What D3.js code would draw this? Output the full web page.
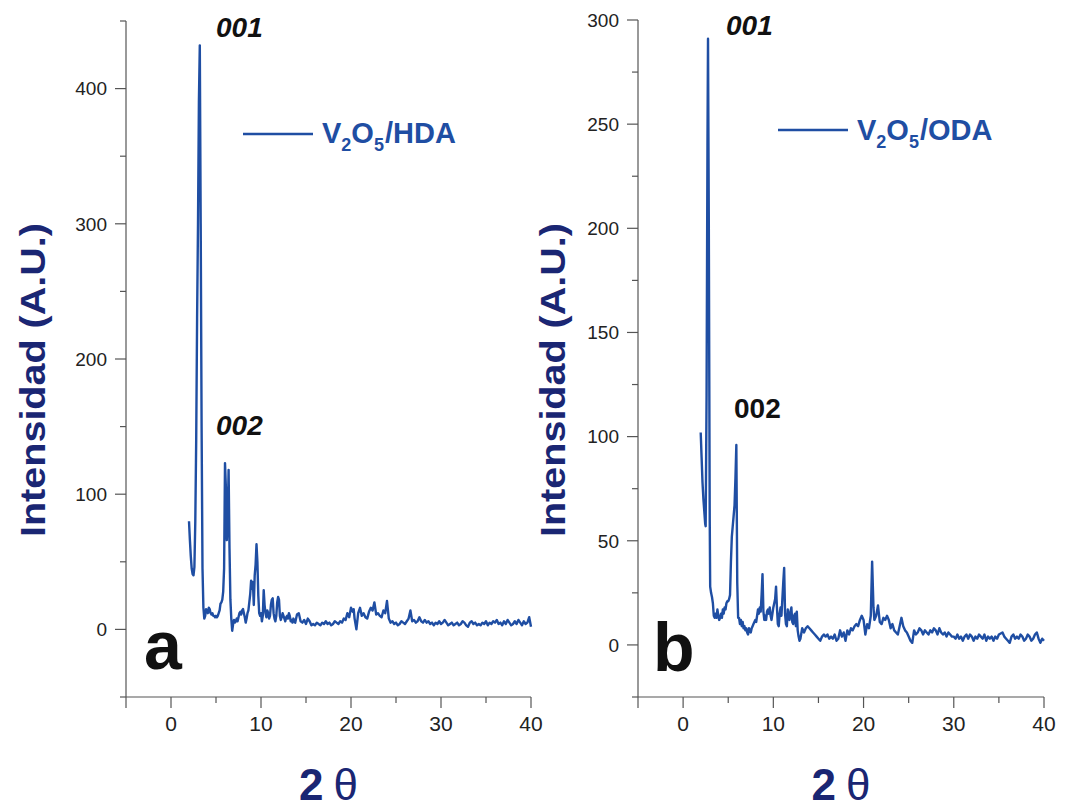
<!DOCTYPE html>
<html>
<head>
<meta charset="utf-8">
<script src="https://cdn.jsdelivr.net/npm/d3@7"></script>
<style>
  html, body { margin: 0; padding: 0; background: #fff; }
  svg { display: block; font-family: "Liberation Sans", Arial, Helvetica, sans-serif; }
</style>
</head>
<body>
<svg id="chart" width="1065" height="811"></svg>
<script>
// X-ray diffraction patterns (2θ in degrees, intensity in arbitrary units)
const hdaPattern = [
  [2.0,80],[2.1,66],[2.2,54],[2.3,45],[2.4,41],[2.5,40],[2.6,46],[2.7,80],[2.8,140],[2.9,230],
  [3.0,300],[3.1,390],[3.2,432],[3.3,300],[3.4,150],[3.5,45],[3.6,16],[3.7,8],[3.8,10],[3.9,15],
  [4.0,14],[4.1,12],[4.2,16],[4.3,15],[4.4,12],[4.5,11],[4.6,12],[4.7,10],[4.8,10],[4.9,9],
  [5.0,10],[5.1,9],[5.2,10],[5.3,12],[5.4,14],[5.5,19],[5.6,20],[5.7,22],[5.8,28],[5.9,45],
  [6.0,123],[6.1,105],[6.2,66],[6.3,80],[6.4,118],[6.5,60],[6.6,22],[6.7,8],[6.8,-1],[6.9,4],
  [7.0,7],[7.1,5],[7.2,6],[7.3,8],[7.4,6],[7.5,9],[7.6,12],[7.7,13],[7.8,11],[7.9,14],
  [8.0,15],[8.1,12],[8.2,9],[8.3,5],[8.4,8],[8.5,12],[8.6,14],[8.7,20],[8.8,26],[8.9,36],
  [9.0,30],[9.1,35],[9.2,18],[9.3,40],[9.4,48],[9.5,63],[9.6,50],[9.7,25],[9.8,12],[9.9,10],
  [10.0,12],[10.1,6],[10.2,10],[10.3,29],[10.4,18],[10.5,12],[10.6,9],[10.7,14],[10.8,12],[10.9,8],
  [11.0,10],[11.1,18],[11.2,22],[11.3,23],[11.4,12],[11.5,8],[11.6,6],[11.7,10],[11.8,20],[11.9,24],
  [12.0,22],[12.1,10],[12.2,7],[12.3,9],[12.4,12],[12.5,10],[12.6,8],[12.7,6],[12.8,9],[12.9,10],
  [13.0,8],[13.1,12],[13.2,10],[13.3,6],[13.4,7],[13.5,5],[13.6,8],[13.7,6],[13.8,5],[13.9,8],
  [14.0,11],[14.2,12],[14.4,6],[14.6,5],[14.8,7],[15.0,4],[15.2,8],[15.4,6],[15.6,3],[15.8,4],
  [16.0,3],[16.2,5],[16.4,4],[16.6,3],[16.8,5],[17.0,4],[17.2,6],[17.4,4],[17.6,5],[17.8,3],
  [18.0,4],[18.2,6],[18.4,5],[18.6,4],[18.8,6],[19.0,5],[19.2,8],[19.4,7],[19.6,12],[19.8,9],
  [20.0,16],[20.2,13],[20.3,15],[20.4,8],[20.6,0],[20.8,12],[21.0,16],[21.2,10],[21.4,12],[21.6,9],
  [21.8,8],[22.0,13],[22.2,16],[22.4,14],[22.6,20],[22.8,11],[23.0,12],[23.2,10],[23.4,9],[23.6,14],
  [23.8,12],[24.0,21],[24.2,8],[24.4,5],[24.6,6],[24.8,4],[25.0,5],[25.2,3],[25.4,4],[25.6,6],
  [25.8,5],[26.0,4],[26.2,6],[26.4,8],[26.6,14],[26.8,6],[27.0,7],[27.2,5],[27.4,6],[27.6,9],
  [27.8,6],[28.0,5],[28.2,7],[28.4,5],[28.6,6],[28.8,4],[29.0,5],[29.2,3],[29.4,5],[29.6,4],
  [29.8,6],[30.0,4],[30.2,5],[30.4,7],[30.6,5],[30.8,3],[31.0,4],[31.2,5],[31.4,3],[31.6,4],
  [31.8,5],[32.0,3],[32.2,4],[32.4,6],[32.6,5],[32.8,3],[33.0,2],[33.2,5],[33.4,6],[33.6,4],
  [33.8,5],[34.0,3],[34.2,4],[34.4,3],[34.6,5],[34.8,4],[35.0,6],[35.2,3],[35.4,5],[35.6,4],
  [35.8,6],[36.0,5],[36.2,7],[36.4,4],[36.6,5],[36.8,3],[37.0,6],[37.2,4],[37.4,7],[37.6,5],
  [37.8,3],[38.0,4],[38.2,6],[38.4,4],[38.6,7],[38.8,5],[39.0,3],[39.2,6],[39.4,4],[39.6,5],
  [39.8,9],[40.0,2]
];

const odaPattern = [
  [1.95,102],[2.05,90],[2.15,78],[2.25,70],[2.35,64],[2.45,58],[2.5,57],[2.6,120],[2.7,240],[2.76,291],
  [2.85,200],[2.95,60],[3.0,28],[3.1,25],[3.2,23],[3.3,20],[3.4,14],[3.5,13],[3.6,15],[3.7,13],
  [3.8,17],[3.9,14],[4.0,12],[4.1,13],[4.2,15],[4.3,13],[4.4,17],[4.5,15],[4.6,18],[4.7,17],
  [4.8,20],[4.9,21],[5.0,21],[5.1,22],[5.2,24],[5.3,40],[5.4,52],[5.5,57],[5.6,62],[5.7,67],
  [5.8,80],[5.9,96],[6.0,30],[6.1,13],[6.2,13],[6.3,10],[6.4,12],[6.5,9],[6.6,11],[6.7,8],
  [6.8,9],[6.9,7],[7.0,8],[7.1,6],[7.2,5],[7.3,8],[7.4,7],[7.5,6],[7.6,8],[7.7,9],
  [7.8,10],[7.9,11],[8.0,12],[8.1,11],[8.2,14],[8.3,17],[8.4,15],[8.5,18],[8.6,16],[8.7,24],
  [8.8,34],[8.9,16],[9.0,12],[9.1,14],[9.2,12],[9.3,16],[9.4,17],[9.5,15],[9.6,18],[9.7,14],
  [9.8,12],[9.9,15],[10.0,18],[10.1,20],[10.2,22],[10.3,28],[10.4,18],[10.5,10],[10.6,9],[10.7,15],
  [10.8,18],[10.9,14],[11.0,22],[11.1,30],[11.2,37],[11.3,15],[11.4,10],[11.5,9],[11.6,17],[11.7,13],
  [11.8,12],[11.9,16],[12.0,18],[12.1,11],[12.2,10],[12.3,14],[12.4,15],[12.5,9],[12.6,16],[12.7,7],
  [12.8,4],[12.9,2],[13.0,3],[13.2,8],[13.4,6],[13.6,8],[13.8,9],[14.0,8],[14.2,7],[14.4,6],
  [14.6,5],[14.8,4],[15.0,3],[15.2,2],[15.4,4],[15.6,5],[15.8,4],[16.0,5],[16.2,3],[16.4,4],
  [16.6,3],[16.8,5],[17.0,2],[17.2,3],[17.4,7],[17.6,4],[17.8,6],[18.0,2],[18.2,7],[18.4,5],
  [18.6,8],[18.8,7],[19.0,9],[19.2,10],[19.4,9],[19.6,12],[19.8,14],[20.0,12],[20.2,5],[20.4,10],
  [20.6,8],[20.8,14],[20.95,40],[21.1,18],[21.2,12],[21.4,14],[21.6,19],[21.8,11],[22.0,10],[22.2,13],
  [22.4,12],[22.6,14],[22.8,12],[23.0,8],[23.2,10],[23.4,7],[23.6,6],[23.8,5],[24.0,9],[24.2,13],
  [24.4,9],[24.6,7],[24.8,6],[25.0,4],[25.2,2],[25.4,1],[25.6,7],[25.8,5],[26.0,6],[26.2,8],
  [26.4,7],[26.6,5],[26.8,7],[27.0,6],[27.2,5],[27.4,7],[27.6,6],[27.8,8],[28.0,7],[28.2,5],
  [28.4,8],[28.6,6],[28.8,5],[29.0,6],[29.2,4],[29.4,6],[29.6,5],[29.8,4],[30.0,4],[30.2,3],
  [30.4,5],[30.6,3],[30.8,4],[31.0,2],[31.2,4],[31.4,5],[31.6,3],[31.8,5],[32.0,4],[32.2,2],
  [32.4,4],[32.6,3],[32.8,5],[33.0,4],[33.2,3],[33.4,5],[33.6,2],[33.8,4],[34.0,3],[34.2,4],
  [34.4,2],[34.6,4],[34.8,3],[35.0,5],[35.4,6],[35.6,4],[35.8,3],[36.0,2],[36.2,1],[36.4,4],
  [36.6,5],[36.8,3],[37.0,4],[37.2,3],[37.4,5],[37.6,4],[37.8,2],[38.0,3],[38.2,5],[38.4,4],
  [38.6,2],[38.8,3],[39.0,5],[39.2,6],[39.4,3],[39.6,1],[39.8,3],[40.0,2]
];

const xTickLabels = [0, 10, 20, 30, 40];
const yTickLabelsA = [0, 100, 200, 300, 400];
const yTickLabelsB = [0, 50, 100, 150, 200, 250, 300];
const sampleNames = ["HDA", "ODA"];
const panelLetters = ["a", "b"];

const svg = d3.select("#chart");
const lineColor = "#1f4ea3";
const titleColor = "#1a2673";
const axisColor = "#555";

const panels = [
  {
    data: hdaPattern, name: sampleNames[0], letter: panelLetters[0],
    xRange: [126, 531], yDomain: [-50, 450], yRange: [697, 21],
    yMajor: yTickLabelsA, yMinorStep: 50,
    legend: { x0: 243, x1: 313, y: 134, tx: 322, ty: 143 },
    peak1: { x: 216, y: 37, italic: true },
    peak2: { x: 216, y: 435, italic: true },
    letterPos: { x: 144, y: 669 },
    yTitleX: 45
  },
  {
    data: odaPattern, name: sampleNames[1], letter: panelLetters[1],
    xRange: [638, 1044], yDomain: [-25, 300], yRange: [697, 20],
    yMajor: yTickLabelsB, yMinorStep: 25,
    legend: { x0: 778, x1: 848, y: 130, tx: 857, ty: 140 },
    peak1: { x: 726, y: 35, italic: true },
    peak2: { x: 734, y: 418, italic: false },
    letterPos: { x: 653, y: 671 },
    yTitleX: 565
  }
];

panels.forEach(p => {
  const g = svg.append("g");
  const x = d3.scaleLinear().domain([-5, 40]).range(p.xRange);
  const y = d3.scaleLinear().domain(p.yDomain).range(p.yRange);
  const x0 = p.xRange[0], yBase = p.yRange[0];

  // x axis: major ticks every 10 with labels, minor every 5
  const xAxis = g.append("g").attr("transform", `translate(0,${yBase})`);
  xAxis.append("line").attr("x1", x(-5)).attr("x2", x(40)).attr("stroke", axisColor).attr("stroke-width", 1.2);
  d3.range(-5, 40.01, 5).forEach(v => {
    const major = v % 10 === 0;
    xAxis.append("line").attr("x1", x(v)).attr("x2", x(v)).attr("y1", 0).attr("y2", major || v === -5 ? 11 : 6)
      .attr("stroke", axisColor).attr("stroke-width", 1.2);
  });
  xAxis.selectAll("text.xl").data(xTickLabels).join("text")
    .attr("x", d => x(d)).attr("y", 34).attr("text-anchor", "middle")
    .attr("font-size", 21).attr("fill", "#222").text(d => d);

  // y axis: labelled major ticks and unlabelled minor ticks
  const yAxis = g.append("g").attr("transform", `translate(${x0},0)`);
  yAxis.append("line").attr("y1", y(p.yDomain[0])).attr("y2", y(p.yDomain[1])).attr("stroke", axisColor).attr("stroke-width", 1.2);
  d3.range(p.yDomain[0], p.yDomain[1] + 0.01, p.yMinorStep).forEach(v => {
    const major = p.yMajor.includes(v);
    yAxis.append("line").attr("x1", major ? -11 : -6).attr("x2", 0).attr("y1", y(v)).attr("y2", y(v))
      .attr("stroke", axisColor).attr("stroke-width", 1.2);
  });
  yAxis.selectAll("text.yl").data(p.yMajor).join("text")
    .attr("x", -19).attr("y", d => y(d)).attr("dy", "0.36em").attr("text-anchor", "end")
    .attr("font-size", 19).attr("fill", "#222").text(d => d);

  // diffraction pattern
  const line = d3.line().x(d => x(d[0])).y(d => y(d[1]));
  g.append("path").datum(p.data).attr("d", line)
    .attr("fill", "none").attr("stroke", lineColor).attr("stroke-width", 2.4).attr("stroke-linejoin", "round");

  // legend
  g.append("line").attr("x1", p.legend.x0).attr("x2", p.legend.x1).attr("y1", p.legend.y).attr("y2", p.legend.y)
    .attr("stroke", lineColor).attr("stroke-width", 2.4);
  const lt = g.append("text").attr("x", p.legend.tx).attr("y", p.legend.ty)
    .attr("font-size", 29).attr("font-weight", "bold").attr("fill", lineColor);
  lt.append("tspan").text("V");
  lt.append("tspan").attr("font-size", 18).attr("dy", 8).text("2");
  lt.append("tspan").attr("dy", -8).text("O");
  lt.append("tspan").attr("font-size", 18).attr("dy", 8).text("5");
  lt.append("tspan").attr("dy", -8).attr("dx", 1).text("/" + p.name);

  // reflection labels
  [[p.peak1, "001"], [p.peak2, "002"]].forEach(([pos, txt]) => {
    g.append("text").attr("x", pos.x).attr("y", pos.y)
      .attr("font-size", 28).attr("font-weight", "bold")
      .attr("font-style", pos.italic ? "italic" : "normal").attr("fill", "#111").text(txt);
  });

  // panel letter
  g.append("text").attr("x", p.letterPos.x).attr("y", p.letterPos.y)
    .attr("font-size", 68).attr("font-weight", "bold").attr("fill", "#111").text(p.letter);

  // axis titles
  g.append("text").attr("transform", `translate(${p.yTitleX},380) rotate(-90)`)
    .attr("text-anchor", "middle").attr("font-size", 35).attr("font-weight", "bold")
    .attr("fill", titleColor).attr("textLength", 314).attr("lengthAdjust", "spacingAndGlyphs")
    .text("Intensidad (A.U.)");
  const xt = g.append("text").attr("x", (p.xRange[0] + p.xRange[1]) / 2).attr("y", 800)
    .attr("text-anchor", "middle").attr("font-size", 44).attr("fill", titleColor);
  xt.append("tspan").attr("font-weight", "bold").text("2");
  xt.append("tspan").attr("dx", 10).text("θ");
});
</script>
</body>
</html>
